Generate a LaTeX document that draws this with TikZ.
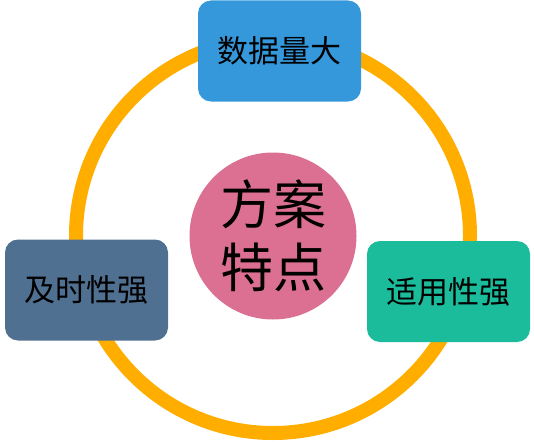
\documentclass[tikz,border=0pt]{standalone}
\usepackage{fontspec}
\newfontfamily\cjk{Noto Sans CJK SC}
\definecolor{anilloNaranja}{RGB}{255,174,0}
\definecolor{azulCaja}{RGB}{52,152,219}
\definecolor{grisAzul}{RGB}{80,112,145}
\definecolor{verdeCaja}{RGB}{26,188,156}
\definecolor{rosaCentro}{RGB}{220,112,146}
\usetikzlibrary{positioning}

\begin{document}
\begin{tikzpicture}[
  x=1pt, y=-1pt,
  ring/.style={circle, draw=anilloNaranja, line width=14pt, minimum size=394pt, inner sep=0pt},
  core/.style={circle, fill=rosaCentro, minimum size=167pt, inner sep=0pt, align=center,
               font=\cjk\fontsize{53}{63}\selectfont},
  feature/.style={rectangle, rounded corners=13pt, minimum width=163pt, minimum height=101pt,
                  inner sep=0pt, font=\cjk\fontsize{31}{36}\selectfont}
]
  \useasboundingbox (0,0) rectangle (534,441);

  % Anillo y centro
  \node[ring] (ring) at (273,236) {};
  \node[core] (core) at (273,236) {方案\\特点};

  % Cajas de caracteristicas
  \node[feature, fill=azulCaja] (big) at (279.5,51) {数据量大};
  \node[feature, fill=grisAzul] (timely) at (86.5,290) {及时性强};
  \node[feature, fill=verdeCaja] (fit) at (448.5,291.5) {适用性强};
\end{tikzpicture}
\end{document}
